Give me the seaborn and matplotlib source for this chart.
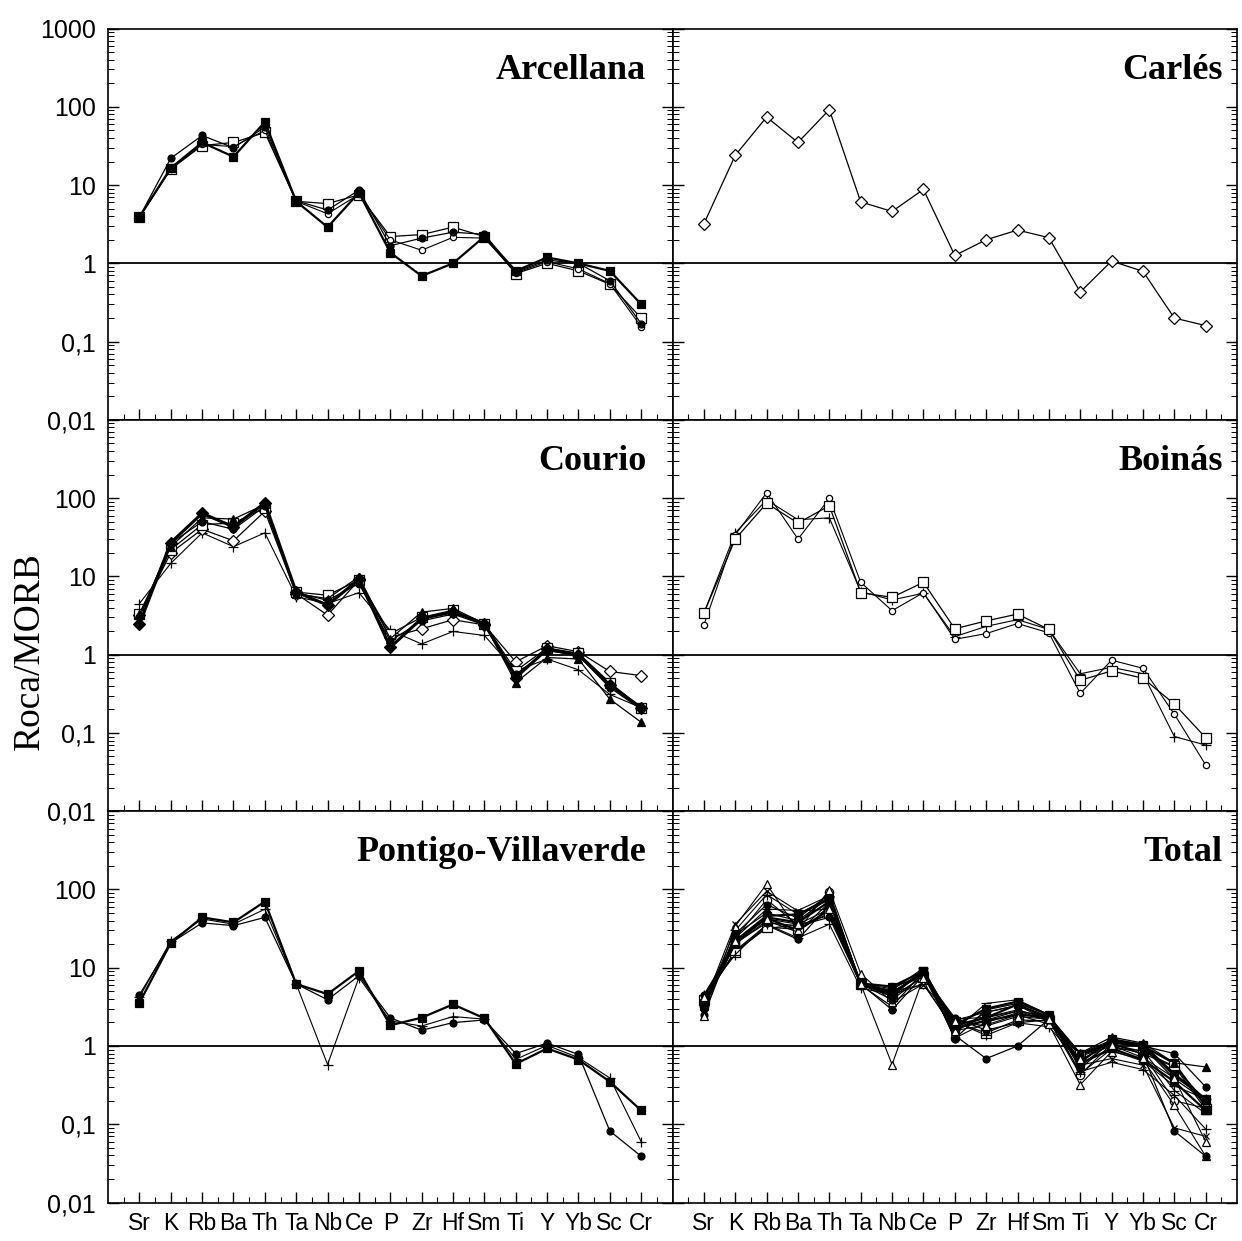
import numpy as np
import pandas as pd
import matplotlib
matplotlib.use("Agg")
import matplotlib.pyplot as plt
from matplotlib.ticker import FixedLocator, FuncFormatter, LogLocator, NullFormatter
import seaborn as sns

# MORB-normalised trace element patterns (Roca/MORB)
ELEMENTS = ["Sr", "K", "Rb", "Ba", "Th", "Ta", "Nb", "Ce", "P", "Zr", "Hf",
            "Sm", "Ti", "Y", "Yb", "Sc", "Cr"]

# Arcellana
arc_a = [3.9, 16.5, 35, 23, 64, 6.2, 2.9, 8.0, 1.37, 0.69, 1.0, 2.2, 0.80, 1.19, 1.0, 0.80, 0.30]
arc_b = [3.9, 22, 43, 30, 55, 6.3, 4.8, 8.6, 1.68, 2.1, 2.5, 2.35, 0.78, 1.1, 1.0, 0.60, 0.17]
arc_c = [3.9, 16, 32, 35, 47, 6.2, 5.8, 7.5, 2.2, 2.33, 2.9, 2.2, 0.74, 1.0, 0.80, 0.54, 0.20]
arc_d = [3.9, 16, 33, 31, 50, 6.2, 4.3, 7.6, 2.0, 1.47, 2.15, 2.1, 0.76, 1.05, 0.85, 0.55, 0.155]

# Carlés
car_a = [3.2, 24, 74, 35, 92, 6.1, 4.6, 8.8, 1.26, 2.0, 2.66, 2.13, 0.43, 1.07, 0.79, 0.20, 0.16]

# Courio
cou_a = [2.46, 27, 64, 43, 87, 6.3, 4.3, 9.2, 1.24, 2.9, 3.5, 2.5, 0.51, 1.17, 1.0, 0.41, 0.21]
cou_b = [3.2, 20, 40, 28.5, 68, 6.0, 3.2, 9.0, 1.67, 2.14, 2.8, 2.4, 0.81, 1.3, 1.09, 0.61, 0.54]
cou_c = [4.5, 14.7, 36, 24, 36, 5.5, 4.5, 6.2, 2.04, 1.37, 1.98, 1.76, 0.62, 0.88, 0.64, 0.31, 0.21]
cou_d = [3.3, 24, 56, 54, 83, 6.0, 5.2, 9.9, 1.6, 3.5, 3.9, 2.5, 0.44, 0.92, 0.88, 0.27, 0.137]
cou_e = [3.3, 22, 46, 48, 75, 6.3, 5.75, 9.0, 1.85, 3.0, 3.7, 2.5, 0.62, 1.22, 1.04, 0.44, 0.21]
cou_f = [3.0, 26.5, 50, 40, 79, 6.2, 4.95, 8.1, 1.5, 2.7, 3.3, 2.4, 0.56, 1.13, 0.97, 0.38, 0.20]

# Boinás
boi_a = [3.4, 30, 86, 48, 80, 6.2, 5.4, 8.4, 2.14, 2.7, 3.3, 2.1, 0.47, 0.62, 0.50, 0.234, 0.087]
boi_b = [2.4, 34, 117, 30, 99, 8.4, 3.65, 6.2, 1.57, 1.86, 2.5, 1.9, 0.32, 0.85, 0.67, 0.174, 0.039]
boi_c = [3.4, 36, 95, 53, 56, 6.4, 5.0, 6.1, 1.7, 2.3, 2.8, 2.1, 0.57, 0.69, 0.57, 0.09, 0.07]

# Pontigo-Villaverde
pon_a = [3.56, 20.7, 44, 38, 70, 6.2, 4.6, 9.1, 1.84, 2.3, 3.4, 2.26, 0.59, 0.93, 0.67, 0.35, 0.15]
pon_b = [4.5, 20.7, 37.4, 34.5, 44, 6.2, 3.9, 7.9, 2.29, 1.59, 1.99, 2.15, 0.80, 1.09, 0.78, 0.082, 0.039]
pon_c = [4.2, 22, 42, 36, 56, 6.2, 0.58, 7.5, 2.09, 1.8, 2.38, 2.2, 0.675, 1.02, 0.71, 0.39, 0.06]

# marker styles: (marker, size, filled, line width)
S_FSQ = ("s", 5.5, True, 1.6)
S_OSQ = ("s", 6.5, False, 0.9)
S_FCI = ("o", 5.0, True, 0.9)
S_OCI = ("o", 4.5, False, 0.8)
S_ODI = ("D", 6.5, False, 0.9)
S_FDI = ("D", 6.5, True, 2.2)
S_FTR = ("^", 5.5, True, 0.9)
S_OTR = ("^", 6.0, False, 0.8)
S_PLS = ("+", 7.0, False, 0.8)
S_MIN = ("_", 7.0, False, 0.8)
S_CRS = ("x", 5.0, False, 0.8)

PANELS = [
    ("Arcellana", [(arc_c, S_OSQ), (arc_d, S_OCI), (arc_b, S_FCI), (arc_a, S_FSQ)]),
    ("Carlés", [(car_a, S_ODI)]),
    ("Courio", [(cou_c, S_PLS), (cou_b, S_ODI), (cou_e, S_OSQ), (cou_f, S_FCI),
                (cou_d, S_FTR), (cou_a, S_FDI)]),
    ("Boinás", [(boi_c, S_PLS), (boi_b, S_OCI), (boi_a, S_OSQ)]),
    ("Pontigo-Villaverde", [(pon_c, S_PLS), (pon_b, S_FCI), (pon_a, S_FSQ)]),
    ("Total", [
        (arc_a, S_FCI), (arc_b, S_FSQ), (arc_c, S_OCI), (arc_d, S_OSQ),
        (car_a, ("o", 6.0, False, 0.8)),
        (cou_a, S_FCI), (cou_b, S_FTR), (cou_c, S_PLS), (cou_d, S_MIN),
        (cou_e, S_FSQ), (cou_f, S_FCI),
        (boi_a, S_PLS), (boi_b, S_OTR), (boi_c, S_CRS),
        (pon_a, S_FSQ), (pon_b, S_FCI), (pon_c, S_OTR),
    ]),
]

sns.set_style("ticks")
plt.rcParams["font.family"] = ["Liberation Sans", "DejaVu Sans"]
plt.rcParams["text.color"] = "black"
plt.rcParams["xtick.color"] = "black"
plt.rcParams["ytick.color"] = "black"
plt.rcParams["axes.labelcolor"] = "black"

fig, axes = plt.subplots(3, 2, figsize=(12.42, 12.41), dpi=100)
fig.subplots_adjust(left=0.087, right=0.996, top=0.977, bottom=0.031,
                    wspace=0, hspace=0)

x_pos = np.arange(len(ELEMENTS))
LABELS = {1000: "1000", 100: "100", 10: "10", 1: "1", 0.1: "0,1", 0.01: "0,01"}

for idx, (ax, (title, series)) in enumerate(zip(axes.flat, PANELS)):
    row, col = divmod(idx, 2)
    ax.set_yscale("log")
    for vals, (m, ms, filled, lw) in series:
        df = pd.DataFrame({"element": x_pos, "value": vals})
        sns.lineplot(data=df, x="element", y="value", ax=ax, color="black",
                     linewidth=lw, marker=m, markersize=ms,
                     markerfacecolor="black" if filled else "white",
                     markeredgecolor="black", markeredgewidth=0.9,
                     errorbar=None, legend=False)
    ax.axhline(1, color="black", linewidth=1.3, zorder=1)
    ax.set_xlim(-1, 17)
    ax.set_ylim(0.01, 1000)
    ax.set_xlabel("")
    ax.set_ylabel("")

    # x axis: element positions, with half-step minor ticks
    ax.xaxis.set_major_locator(FixedLocator(x_pos))
    ax.xaxis.set_minor_locator(FixedLocator(np.arange(-0.5, 17, 1.0)))
    ax.set_xticklabels(ELEMENTS)
    ax.tick_params(axis="x", which="both", direction="in", bottom=True, top=False,
                   labelbottom=(row == 2), labelsize=16.5, pad=7, colors="black")
    ax.tick_params(axis="x", which="major", length=8, width=1.0)
    ax.tick_params(axis="x", which="minor", length=4, width=0.8)

    # y axis: log decades with comma decimals
    ax.yaxis.set_major_locator(FixedLocator([0.01, 0.1, 1, 10, 100, 1000]))
    ax.yaxis.set_minor_locator(LogLocator(base=10, subs=np.arange(2, 10)))
    ax.yaxis.set_minor_formatter(NullFormatter())

    def fmt(v, pos, top=(row == 0)):
        key = min(LABELS, key=lambda k: abs(np.log10(k) - np.log10(v)))
        if key == 1000 and not top:
            return ""
        return LABELS[key]

    ax.yaxis.set_major_formatter(FuncFormatter(fmt))
    ax.tick_params(axis="y", which="both", direction="in", left=True, right=True,
                   labelleft=(col == 0), labelsize=18, pad=9, colors="black")
    ax.tick_params(axis="y", which="major", length=8, width=1.0)
    ax.tick_params(axis="y", which="minor", length=4, width=0.7)

    for sp in ax.spines.values():
        sp.set_linewidth(1.2)
        sp.set_color("black")

    tx = 0.953 if col == 0 else 0.975
    ax.text(tx, 0.872, title, transform=ax.transAxes, ha="right", va="baseline",
            fontsize=26, fontweight="bold", color="black",
            family=["Liberation Serif", "DejaVu Serif"])

fig.text(0.024, 0.475, "Roca/MORB", rotation=90, ha="center", va="center",
         fontsize=27, color="black", family=["Liberation Serif", "DejaVu Serif"])

fig.savefig("out.png", dpi=100, facecolor="white")
